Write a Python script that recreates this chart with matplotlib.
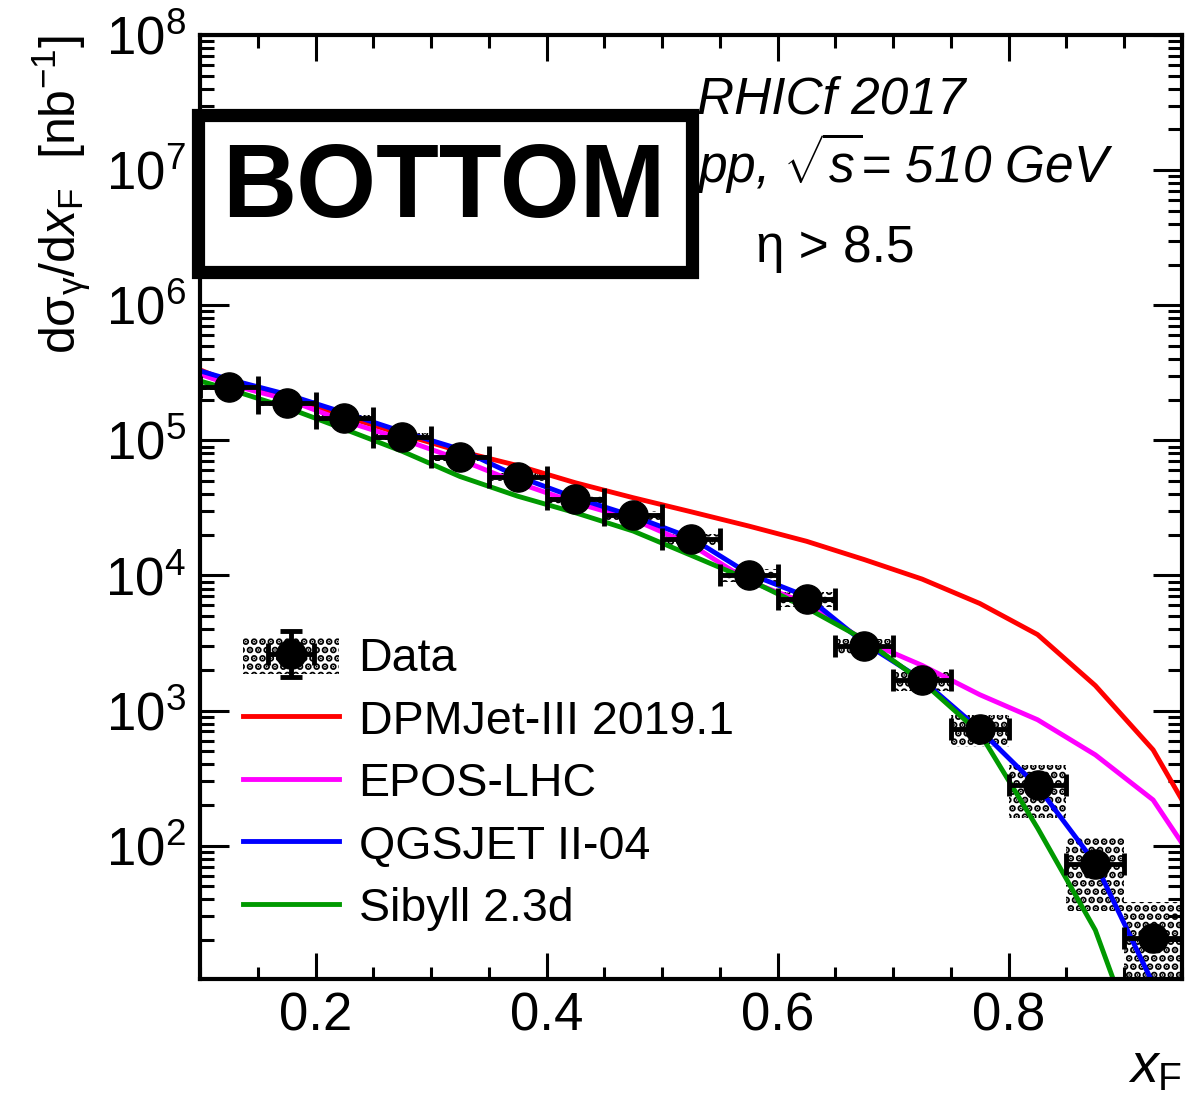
import matplotlib
matplotlib.use("Agg")
import matplotlib.pyplot as plt
import numpy as np
from matplotlib.patches import Rectangle
from matplotlib.legend_handler import HandlerTuple
from matplotlib.ticker import MultipleLocator, FixedLocator, LogLocator, FuncFormatter, NullFormatter

plt.rcParams["font.family"] = ["Liberation Sans", "DejaVu Sans"]
plt.rcParams["mathtext.fontset"] = "custom"
plt.rcParams["mathtext.rm"] = "Liberation Sans"
plt.rcParams["mathtext.it"] = "Liberation Sans:italic"
plt.rcParams["mathtext.bf"] = "Liberation Sans:bold"
plt.rcParams["hatch.color"] = "black"
plt.rcParams["hatch.linewidth"] = 3.5

# measured photon spectrum (bin centres, half width 0.025)
xf_data = [0.125, 0.175, 0.225, 0.275, 0.325, 0.375, 0.425, 0.475, 0.525,
           0.575, 0.625, 0.675, 0.725, 0.775, 0.825, 0.875, 0.925]
xf_halfwidth = [0.025] * len(xf_data)
sigma_data = [2.47e5, 1.90e5, 1.46e5, 1.065e5, 7.5e4, 5.38e4, 3.65e4, 2.8e4, 1.85e4,
              1.0e4, 6.7e3, 3.0e3, 1.67e3, 730, 279, 73, 20.6]
stat_err = [6e2, 5e2, 4e2, 3e2, 2.2e2, 1.6e2, 1.1e2, 90, 60,
            35, 25, 12, 9, 5, 3, 1.5, 0.8]
sys_err = [1.2e4, 9.5e3, 7.5e3, 6.0e3, 4.5e3, 3.5e3, 2.6e3, 2.2e3, 1.8e3,
           1.1e3, 8.5e2, 3.6e2, 2.7e2, 1.9e2, 1.18e2, 40, 17.5]

# model predictions at bin centres (extended one bin past each edge)
xf_mc = [0.075, 0.125, 0.175, 0.225, 0.275, 0.325, 0.375, 0.425, 0.475, 0.525,
         0.575, 0.625, 0.675, 0.725, 0.775, 0.825, 0.875, 0.925, 0.975]
dpmjet = [4.07e5, 2.72e5, 2.09e5, 1.51e5, 1.11e5, 8.3e4, 6.5e4, 4.85e4, 3.76e4, 2.96e4,
          2.32e4, 1.79e4, 1.31e4, 9.4e3, 6.2e3, 3.65e3, 1.53e3, 512, 93]
epos = [3.66e5, 2.6e5, 2.01e5, 1.39e5, 1.02e5, 7.2e4, 4.85e4, 3.45e4, 2.6e4, 1.69e4,
        9.1e3, 6.2e3, 3.3e3, 2.16e3, 1.31e3, 855, 470, 218, 50]
qgsjet = [3.77e5, 2.83e5, 2.19e5, 1.6e5, 1.16e5, 8.6e4, 5.4e4, 3.76e4, 2.75e4, 1.9e4,
          1.03e4, 7.0e3, 3.16e3, 1.69e3, 721, 274, 74, 9.5, 1.0]
sibyll = [3.16e5, 2.39e5, 1.75e5, 1.21e5, 8.3e4, 5.4e4, 3.86e4, 2.91e4, 2.13e4, 1.41e4,
          9.3e3, 5.75e3, 3.35e3, 1.64e3, 681, 135, 23.7, 1.6, 0.1]

models = [
    ("DPMJet-III 2019.1", dpmjet, "#ff0000"),
    ("EPOS-LHC", epos, "#ff00ff"),
    ("QGSJET II-04", qgsjet, "#0000ff"),
    ("Sibyll 2.3d", sibyll, "#009900"),
]

fig = plt.figure(figsize=(11.89, 10.94), dpi=100)
ax = fig.add_axes([0.1682, 0.1051, 0.8259, 0.8629])
ax.set_yscale("log")
ax.set_xlim(0.1, 0.95)
ax.set_ylim(10.3, 1e8)

# systematic boxes
sys_lo = np.array(sigma_data) - np.array(sys_err)
ax.bar(xf_data, 2 * np.array(sys_err), bottom=sys_lo, width=0.05,
       fill=False, hatch="..", edgecolor="black", linewidth=0, zorder=1)

line_handles = []
for label, vals, color in models:
    ln, = ax.plot(xf_mc, vals, color=color, lw=3.5, label=label, zorder=2)
    line_handles.append(ln)

data = ax.errorbar(xf_data, sigma_data, xerr=xf_halfwidth, yerr=stat_err, fmt="o",
                   color="black", markersize=21, elinewidth=3.5, capsize=8,
                   capthick=3.5, zorder=3)

for side in ax.spines.values():
    side.set_linewidth(3)

ax.xaxis.set_major_locator(FixedLocator([0.2, 0.4, 0.6, 0.8]))
ax.xaxis.set_minor_locator(MultipleLocator(0.05))
ax.xaxis.set_major_formatter(FuncFormatter(lambda v, _: "%.1f" % v))
ax.yaxis.set_major_locator(LogLocator(base=10, numticks=20))
ax.yaxis.set_minor_locator(LogLocator(base=10, subs=np.arange(2, 10), numticks=20))
ax.yaxis.set_minor_formatter(NullFormatter())
ax.yaxis.set_major_formatter(FuncFormatter(
    lambda v, _: r"$\mathregular{10^{%d}}$" % round(np.log10(v))))

ax.tick_params(which="both", direction="in", top=True, right=True, width=2.2,
               labelsize=38)
ax.tick_params(axis="x", which="major", length=19, pad=9)
ax.tick_params(axis="x", which="minor", length=9)
ax.tick_params(axis="y", which="major", length=21, pad=10)
ax.tick_params(axis="y", which="minor", length=10)

# axis titles
fig.text(62 / 1189, 1 - 35 / 1094,
         r"d$\mathrm{σ}_{\mathrm{γ}}$/d$x_{\mathrm{F}}$  [nb$^{\mathrm{-1}}$]",
         rotation=90, ha="center", va="top", fontsize=36)
fig.text(1182 / 1189, 1 - 1082 / 1094, r"$x_{\mathrm{F}}$", ha="right",
         va="baseline", fontsize=40)

# annotations
fig.text(697 / 1189, 1 - 113 / 1094, "RHICf 2017", style="italic", fontsize=37,
         va="baseline")
fig.text(697 / 1189, 1 - 183 / 1094, r"pp, $\sqrt{s}$= 510 GeV", style="italic",
         fontsize=37, va="baseline")
fig.text(835 / 1189, 1 - 262 / 1094, "η > 8.5", fontsize=37, ha="center",
         va="baseline")

box = Rectangle((197.5 / 1189, 1 - 271.5 / 1094), 494 / 1189, 157 / 1094,
                transform=fig.transFigure, facecolor="white", edgecolor="black",
                linewidth=9.5, zorder=5)
fig.add_artist(box)
fig.text(444 / 1189, 1 - 190 / 1094, "BOTTOM", fontsize=74, fontweight="bold",
         ha="center", va="center", zorder=6)

# legend
sys_patch = Rectangle((0, 0), 1, 1, fill=False, hatch="..", edgecolor="black",
                      linewidth=0)
handles = [(sys_patch, data)] + line_handles
labels = ["Data"] + [m[0] for m in models]
ax.legend(handles, labels, loc="upper left", bbox_to_anchor=(0.044, 0.3625),
          frameon=False, fontsize=33.5, handlelength=2.05, handleheight=0.85,
          handletextpad=0.43, labelspacing=0.38, borderpad=0, borderaxespad=0,
          handler_map={tuple: HandlerTuple(ndivide=1)})

fig.savefig("out.png", dpi=100)
